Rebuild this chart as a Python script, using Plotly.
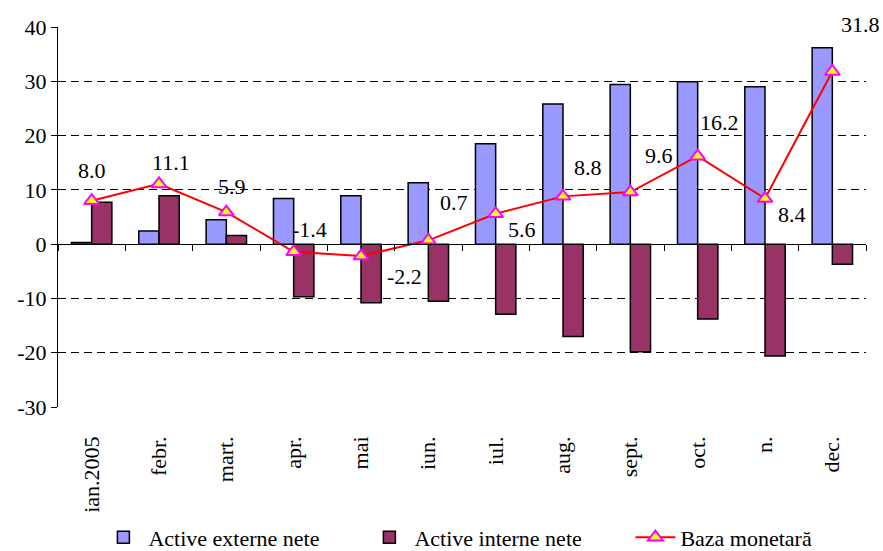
import plotly.graph_objects as go

months = ["ian.2005", "febr.", "mart.", "apr.", "mai", "iun.", "iul.", "aug.",
          "sept.", "oct.", "n.", "dec."]
active_externe = [0.3, 2.4, 4.5, 8.4, 8.9, 11.3, 18.5, 25.8, 29.4, 29.9, 29.0, 36.2]
active_interne = [7.7, 8.9, 1.6, -9.7, -10.8, -10.5, -12.9, -17.0, -19.8, -13.8, -20.6, -3.7]
baza_monetara = [8.0, 11.1, 5.9, -1.4, -2.2, 0.7, 5.6, 8.8, 9.6, 16.2, 8.4, 31.8]
y_ticks = [-30, -20, -10, 0, 10, 20, 30, 40]
y_tick_text = ["-30", "-20", "-10", "0", "10", "20", "30", "40"]

# label offsets in pixels (style only)
label_dx = [0, 12, 6, 16, 43, 26, 26, 25, 29, 22, 27, 28]
label_dy = [-30, -21, -26, -22, 20, -38, 16, -29, -37, -34, 16, -47]

FONT = "Liberation Serif, Times New Roman, Tinos, serif"
FS = 22
x = list(range(len(months)))

fig = go.Figure()
fig.add_trace(go.Bar(x=x, y=active_externe, name="Active externe nete",
                     marker=dict(color="#9999FF", line=dict(color="black", width=1.5))))
fig.add_trace(go.Bar(x=x, y=active_interne, name="Active interne nete",
                     marker=dict(color="#993366", line=dict(color="black", width=1.5))))
fig.add_trace(go.Scatter(x=x, y=baza_monetara, name="Baza monetară", mode="lines+markers",
                         xaxis="x2", yaxis="y2",
                         line=dict(color="#FF0000", width=2),
                         marker=dict(symbol="triangle-up", size=13, color="#FFFF00",
                                     line=dict(color="#FF00FF", width=2))))

for i, v in enumerate(baza_monetara):
    fig.add_annotation(x=i, y=v, xref="x", yref="y", text=f"{v:.1f}", showarrow=False,
                       xshift=label_dx[i], yshift=-label_dy[i],
                       font=dict(family=FONT, size=FS, color="black"))

rng = [-0.5, len(months) - 0.5]
fig.update_layout(
    width=883, height=551,
    margin=dict(l=58, r=17, t=27, b=144, autoexpand=False),
    paper_bgcolor="white", plot_bgcolor="white",
    barmode="group", bargap=0.4, bargroupgap=0,
    font=dict(family=FONT, size=FS, color="black"),
    showlegend=True,
    legend=dict(orientation="h", x=0.05, xanchor="left", y=-0.343, yanchor="middle",
                font=dict(family=FONT, size=FS, color="black"),
                entrywidth=211, itemwidth=40, tracegroupgap=0),
    xaxis=dict(range=rng, tickmode="array", tickvals=x, ticktext=months, tickangle=-90,
               showline=False, ticks="", showgrid=False, zeroline=False, automargin=False,
               ticklabelstandoff=24, tickfont=dict(family=FONT, size=FS)),
    xaxis2=dict(range=rng, overlaying="x", anchor="free", position=30 / 70, side="bottom",
                tickmode="array", tickvals=[i - 0.5 for i in range(len(months) + 1)],
                ticks="outside", ticklen=6, tickcolor="black", showline=True,
                linecolor="black", linewidth=1, showticklabels=False,
                showgrid=False, zeroline=False),
    yaxis=dict(range=[-30, 40], tickmode="array", tickvals=y_ticks, ticktext=y_tick_text,
               ticks="outside", ticklen=6, tickcolor="black", showline=True,
               linecolor="black", linewidth=1, showgrid=False, zeroline=False,
               automargin=False, tickfont=dict(family=FONT, size=FS)),
    yaxis2=dict(range=[-30, 40], overlaying="y", anchor="x", tickmode="array",
                tickvals=[-20, -10, 10, 20, 30], showticklabels=False, ticks="",
                showgrid=True, gridcolor="black", gridwidth=1, griddash="8px,5px",
                zeroline=False, showline=False),
)

fig.write_html("out.html", config={"displayModeBar": False},
               post_script="document.body.style.margin='0';document.body.style.overflow='hidden';")
